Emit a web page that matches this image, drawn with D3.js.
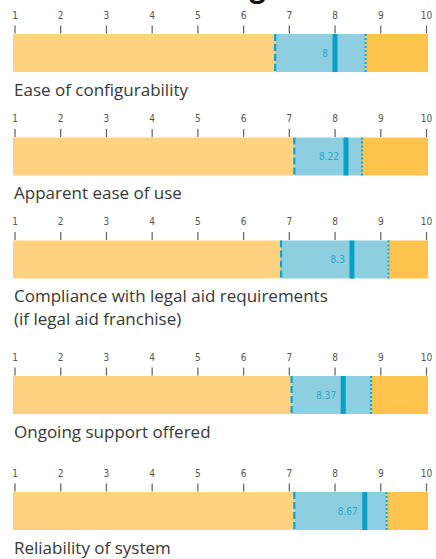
<!DOCTYPE html>
<html>
<head>
<meta charset="utf-8">
<script src="https://cdn.jsdelivr.net/npm/d3@7"></script>
<style>
  html, body { margin: 0; padding: 0; background: #fff; }
  svg { display: block; }
</style>
</head>
<body>
<svg id="chart" width="436" height="559"></svg>
<script>
// ---- data ----
const categories = [
  ["Ease of configurability"],
  ["Apparent ease of use"],
  ["Compliance with legal aid requirements", "(if legal aid franchise)"],
  ["Ongoing support offered"],
  ["Reliability of system"]
];
const meanLabels   = ["8", "8.22", "8.3", "8.37", "8.67"];
const markerValues = [8.01, 8.25, 8.38, 8.19, 8.66];
const lowerValues  = [6.70, 7.12, 6.83, 7.06, 7.12];
const upperValues  = [8.68, 8.60, 9.18, 8.80, 9.14];
const tickValues   = [1, 2, 3, 4, 5, 6, 7, 8, 9, 10];

// ---- layout ----
const barTops = [34, 137.5, 240.5, 376, 492];
const barH = 38;
const svg = d3.select("#chart");

const x = d3.scaleLinear().domain([1, 10]).range([14.5, 426]);
const barX0 = 13, barX1 = 428;

// Title, cut off at the top edge (only the descender of the last letter shows)
svg.append("text")
  .attr("x", 266).attr("y", -1.5)
  .attr("text-anchor", "end")
  .attr("font-family", "Lato, 'Open Sans', sans-serif")
  .attr("font-weight", 900)
  .attr("font-size", 32)
  .attr("fill", "#111")
  .text("Overall rating");

categories.forEach((lines, i) => {
  const top = barTops[i];
  const g = svg.append("g");

  const axis = d3.axisTop(x).tickValues(tickValues).tickSize(8).tickPadding(7).tickFormat(d3.format("d"));
  const ag = g.append("g").attr("transform", `translate(0,${top - 0.5})`).call(axis);
  ag.select(".domain").remove();
  ag.selectAll(".tick line").attr("stroke", "#6b6b6b").attr("stroke-width", 1.3);
  ag.selectAll(".tick text")
    .attr("fill", "#555")
    .attr("font-family", "'DejaVu Sans Condensed', 'DejaVu Sans', sans-serif")
    .attr("font-size", 10);

  g.append("rect").attr("x", barX0).attr("y", top)
    .attr("width", x(lowerValues[i]) - barX0).attr("height", barH).attr("fill", "#fed27e");
  g.append("rect").attr("x", x(lowerValues[i])).attr("y", top)
    .attr("width", x(upperValues[i]) - x(lowerValues[i])).attr("height", barH).attr("fill", "#8dcfe0");
  g.append("rect").attr("x", x(upperValues[i])).attr("y", top)
    .attr("width", barX1 - x(upperValues[i])).attr("height", barH).attr("fill", "#ffc44e");

  g.append("line").attr("x1", x(lowerValues[i])).attr("x2", x(lowerValues[i]))
    .attr("y1", top).attr("y2", top + barH)
    .attr("stroke", "#11a2c8").attr("stroke-width", 2.2).attr("stroke-dasharray", "7,3");
  g.append("line").attr("x1", x(upperValues[i])).attr("x2", x(upperValues[i]))
    .attr("y1", top).attr("y2", top + barH)
    .attr("stroke", "#11a2c8").attr("stroke-width", 2).attr("stroke-dasharray", "2,2");
  g.append("line").attr("x1", x(markerValues[i])).attr("x2", x(markerValues[i]))
    .attr("y1", top).attr("y2", top + barH)
    .attr("stroke", "#0aa0c6").attr("stroke-width", 5);
  g.append("text")
    .attr("x", x(markerValues[i]) - 7).attr("y", top + barH / 2 + 3.5)
    .attr("text-anchor", "end")
    .attr("font-family", "'DejaVu Sans Condensed', 'DejaVu Sans', sans-serif")
    .attr("font-size", 10)
    .attr("fill", "#2aa6cc")
    .text(meanLabels[i]);

  const t = g.append("text")
    .attr("x", 14).attr("y", top + barH + 23.5)
    .attr("font-family", "'Open Sans', sans-serif")
    .attr("font-size", 17)
    .attr("fill", "#383838");
  lines.forEach((ln, j) => {
    t.append("tspan").attr("x", 14).attr("dy", j === 0 ? 0 : 23).text(ln);
  });
});
</script>
</body>
</html>
